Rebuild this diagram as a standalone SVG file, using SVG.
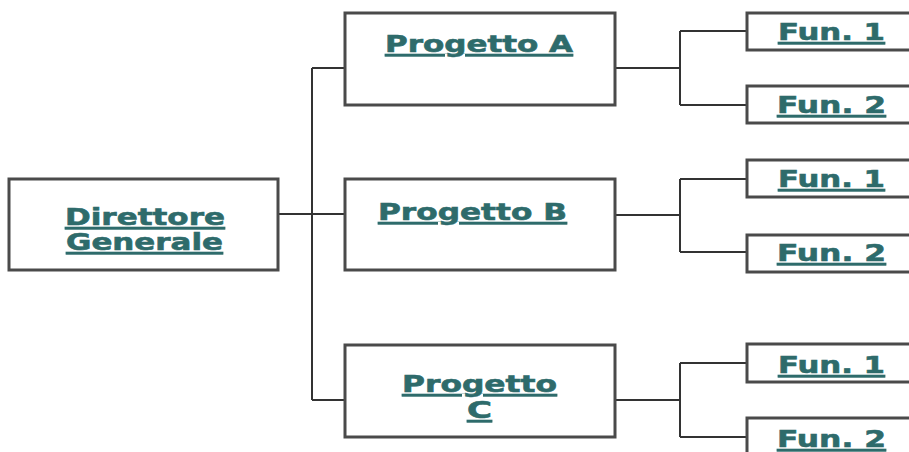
<svg xmlns="http://www.w3.org/2000/svg" width="909" height="452" viewBox="0 0 909 452">
<style>
.box{fill:#fff;stroke:#4a4a4a;stroke-width:3}
.ln{fill:none;stroke:#333;stroke-width:2}
.t{font-family:"DejaVu Sans","Verdana",sans-serif;font-weight:bold;font-size:23px;fill:#2e6b6b;stroke:#2e6b6b;stroke-width:0.6;text-decoration:underline}
</style>
<rect width="909" height="452" fill="#fff"/>
<g id="connectors">
<path class="ln" d="M278 214H345M312 68V400M312 68H345M312 400H345"/>
<path class="ln" d="M615 68H680M680 31V105M680 31H747M680 105H747"/>
<path class="ln" d="M615 215H680M680 179V252M680 179H747M680 252H747"/>
<path class="ln" d="M615 400H680M680 363V437M680 363H747M680 437H747"/>
</g>
<g id="direttore">
<rect class="box" x="9" y="179" width="269" height="91"/>
<text class="t" x="65" y="225" textLength="160" lengthAdjust="spacingAndGlyphs">Direttore</text>
<text class="t" x="66" y="250" textLength="157" lengthAdjust="spacingAndGlyphs">Generale</text>
</g>
<g id="progettoA">
<rect class="box" x="345" y="13" width="270" height="92"/>
<text class="t" x="385" y="52" textLength="188" lengthAdjust="spacingAndGlyphs">Progetto A</text>
</g>
<g id="progettoB">
<rect class="box" x="345" y="179" width="270" height="91"/>
<text class="t" x="378" y="220" textLength="189" lengthAdjust="spacingAndGlyphs">Progetto B</text>
</g>
<g id="progettoC">
<rect class="box" x="345" y="345" width="270" height="92"/>
<text class="t" x="402" y="392" textLength="155" lengthAdjust="spacingAndGlyphs">Progetto</text>
<text class="t" x="467" y="418" textLength="25" lengthAdjust="spacingAndGlyphs">C</text>
</g>
<g id="funA1">
<rect class="box" x="747" y="13" width="200" height="37"/>
<text class="t" x="778" y="40" textLength="107" lengthAdjust="spacingAndGlyphs">Fun. 1</text>
</g>
<g id="funA2">
<rect class="box" x="747" y="86" width="200" height="37"/>
<text class="t" x="777" y="113" textLength="109" lengthAdjust="spacingAndGlyphs">Fun. 2</text>
</g>
<g id="funB1">
<rect class="box" x="747" y="160" width="200" height="37"/>
<text class="t" x="778" y="187" textLength="107" lengthAdjust="spacingAndGlyphs">Fun. 1</text>
</g>
<g id="funB2">
<rect class="box" x="747" y="235" width="200" height="37"/>
<text class="t" x="777" y="261" textLength="109" lengthAdjust="spacingAndGlyphs">Fun. 2</text>
</g>
<g id="funC1">
<rect class="box" x="747" y="344" width="200" height="38"/>
<text class="t" x="778" y="373" textLength="107" lengthAdjust="spacingAndGlyphs">Fun. 1</text>
</g>
<g id="funC2">
<rect class="box" x="747" y="418" width="200" height="40"/>
<text class="t" x="777" y="447" textLength="109" lengthAdjust="spacingAndGlyphs">Fun. 2</text>
</g>
</svg>
